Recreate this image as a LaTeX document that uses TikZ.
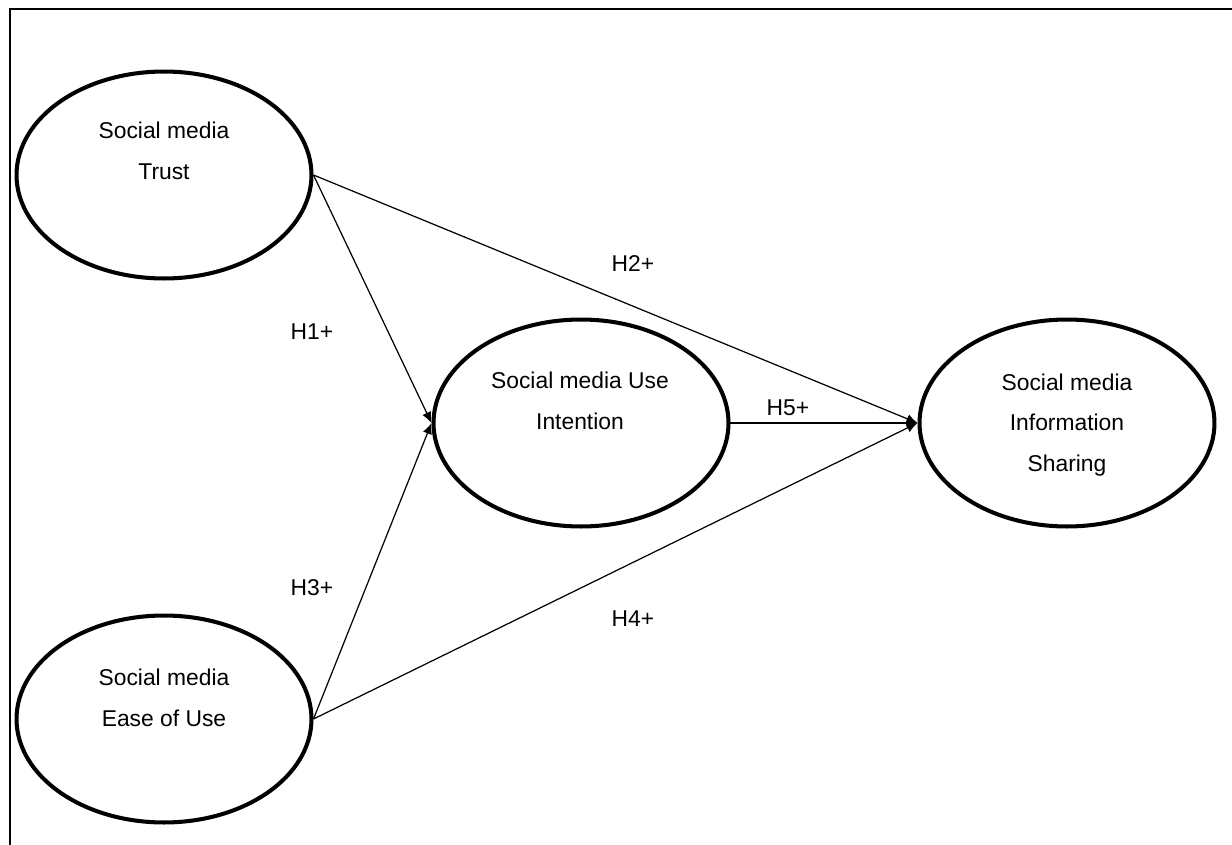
\documentclass[tikz,border=0pt]{standalone}
\usepackage{fontspec}
\setmainfont{Liberation Sans}
\usetikzlibrary{arrows.meta,shapes.geometric}

\begin{document}
\begin{tikzpicture}[x=0.02cm,y=-0.02cm,->,>={Latex[length=2.2mm,width=1.9mm]},
  every edge/.append style={line width=0.7pt},
  construct/.style={ellipse,draw,line width=2.3pt,minimum width=5.9cm,
    minimum height=4.14cm,inner sep=0pt},
  caption/.style={align=center,font=\fontsize{13}{23.2}\selectfont},
  hyp/.style={font=\fontsize{13}{15}\selectfont}]
  \useasboundingbox (0,0) rectangle (1232,845);
  % frame of the cell
  \draw[-,line width=1.1pt] (10,845) -- (10,9) -- (1232,9);
  % constructs
  \node[construct] (trust) at (164,175) {};
  \node[construct] (ease) at (164,719) {};
  \node[construct] (intent) at (581,423) {};
  \node[construct] (share) at (1067,423) {};
  \node[caption] (trusttxt) at (164,151) {Social media\\Trust};
  \node[caption] (easetxt) at (164,698) {Social media\\Ease of Use};
  \node[caption] (intenttxt) at (580,401) {Social media Use\\Intention};
  \node[caption] (sharetxt) at (1067,425) {Social media\\Information\\Sharing};
  % hypotheses
  \path (trust.east) edge (intent.west)
                     edge (share.west)
        (ease.east)  edge (intent.west)
                     edge (share.west)
        (intent.east) edge (share.west);
  \node[hyp] (h1) at (312,332) {H1+};
  \node[hyp] (h2) at (633,264) {H2+};
  \node[hyp] (h3) at (312,588) {H3+};
  \node[hyp] (h4) at (633,619) {H4+};
  \node[hyp] (h5) at (788,408) {H5+};
\end{tikzpicture}
\end{document}
